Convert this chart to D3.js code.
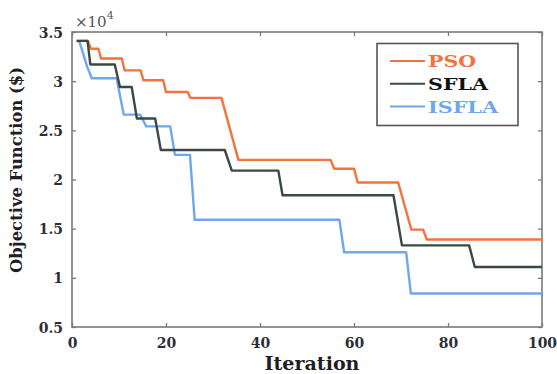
<!DOCTYPE html>
<html>
<head>
<meta charset="utf-8">
<script src="https://cdn.jsdelivr.net/npm/d3@7"></script>
<style>
	body { margin: 0; background: #fff; }
	.container { width: 557px; height: 374px; }
</style>
</head>
<body>
<div class="container"></div>
<script>
// values, [iteration, objective / 1e4]
var psoPoints = [[1, 3.41], [3.4, 3.41], [4, 3.33], [5.6, 3.33], [6.2, 3.23], [10.6, 3.23], [11.2, 3.11], [14.6, 3.11],
	[15.2, 3.01], [19.4, 3.01], [20, 2.89], [24.6, 2.89], [25.2, 2.83], [31.8, 2.83], [35.4, 2.20], [55, 2.20],
	[55.8, 2.11], [60, 2.11], [60.8, 1.97], [69.4, 1.97], [72.2, 1.49], [74.7, 1.49], [75.5, 1.39], [100, 1.39]];
var sflaPoints = [[1, 3.41], [3.3, 3.41], [3.9, 3.17], [9.1, 3.17], [10.2, 2.94], [12.7, 2.94], [13.8, 2.62], [17.7, 2.62],
	[18.9, 2.30], [32.5, 2.30], [34, 2.09], [43.9, 2.09], [44.8, 1.84], [68.4, 1.84], [70.2, 1.33], [84.5, 1.33],
	[85.7, 1.11], [100, 1.11]];
var isflaPoints = [[1, 3.41], [1.6, 3.40], [3.2, 3.15], [4.2, 3.03], [9.5, 3.03], [11, 2.66], [14.5, 2.66], [15.8, 2.54],
	[20.9, 2.54], [21.9, 2.25], [25.1, 2.25], [26.1, 1.59], [56.9, 1.59], [57.9, 1.26], [71.1, 1.26], [72.1, 0.84],
	[100, 0.84]];

var seriesNames = ["PSO", "SFLA", "ISFLA"];
var seriesColors = ["#f3733d", "#3b4846", "#6ea7ee"];
var xTicks = [0, 20, 40, 60, 80, 100];
var yTicks = [0.5, 1, 1.5, 2, 2.5, 3, 3.5];

var W = 557, H = 374;
var plotLeft = 72, plotRight = 542, plotTop = 32, plotBottom = 327; // note: "top" is taken by window.top
var serif = "'DejaVu Serif', serif";
var labelColor = "#2e2e38";

function makeStage(w, h) {
	var stage = d3.select(".container")
	.insert("svg")
	.attr("width", w)
	.attr("height", h);
	return stage;
}

var stage = makeStage(W, H);

var x = d3.scaleLinear().domain([0, 100]).range([plotLeft, plotRight]);
var y = d3.scaleLinear().domain([0.5, 3.5]).range([plotBottom, plotTop]);

// ticks point inwards, on all four sides like a matlab box
function drawAxes(stage) {
	var bx = stage.append("g").attr("transform", "translate(0," + plotBottom + ")")
	.call(d3.axisBottom(x).tickValues(xTicks).tickSize(-4).tickSizeOuter(0).tickPadding(8));
	var tx = stage.append("g").attr("transform", "translate(0," + plotTop + ")")
	.call(d3.axisTop(x).tickValues(xTicks).tickSize(-4).tickSizeOuter(0).tickFormat(""));
	var ly = stage.append("g").attr("transform", "translate(" + plotLeft + ",0)")
	.call(d3.axisLeft(y).tickValues(yTicks).tickSize(-4).tickSizeOuter(0).tickPadding(9).tickFormat(d3.format("")));
	var ry = stage.append("g").attr("transform", "translate(" + plotRight + ",0)")
	.call(d3.axisRight(y).tickValues(yTicks).tickSize(-4).tickSizeOuter(0).tickFormat(""));

	[bx, tx, ly, ry].forEach(function(g) {
		g.select(".domain").remove();
		g.selectAll(".tick line").attr("stroke", "#7a7a7a").attr("stroke-width", 1.3);
		g.selectAll("text")
		.style("font-family", serif)
		.style("font-weight", "bold")
		.style("font-size", "14px")
		.attr("fill", labelColor);
	});
	bx.selectAll("text").attr("dy", "0.9em");
	ly.selectAll("text").attr("dy", "0.36em");

	stage.append("rect")
	.attr("x", plotLeft)
	.attr("y", plotTop)
	.attr("width", plotRight - plotLeft)
	.attr("height", plotBottom - plotTop)
	.attr("fill", "none")
	.attr("stroke", "#7a7a7a")
	.attr("stroke-width", 1.6);
}

function drawSeries(stage, pts, color) {
	var line = d3.line()
	.x(function(d) { return x(d[0]); })
	.y(function(d) { return y(d[1]); });
	stage.append("path")
	.datum(pts)
	.attr("d", line)
	.attr("fill", "none")
	.attr("stroke", color)
	.attr("stroke-width", 2.4)
	.attr("stroke-linejoin", "round");
}

drawAxes(stage);
// blue underneath, black on top
drawSeries(stage, isflaPoints, seriesColors[2]);
drawSeries(stage, psoPoints, seriesColors[0]);
drawSeries(stage, sflaPoints, seriesColors[1]);

// exponent at top left
var expo = stage.append("text")
.attr("x", 75)
.attr("y", 27)
.style("font-family", serif)
.style("font-size", "15px")
.attr("fill", "#555");
expo.append("tspan").text("\u00d710");
expo.append("tspan").attr("dy", -8).style("font-size", "11px").text("4");

// axis titles
stage.append("text")
.attr("x", 312)
.attr("y", 370)
.attr("text-anchor", "middle")
.attr("textLength", 95)
.attr("lengthAdjust", "spacingAndGlyphs")
.style("font-family", serif)
.style("font-weight", "bold")
.style("font-size", "18px")
.attr("fill", "#1e1e24")
.text("Iteration");

stage.append("text")
.attr("transform", "translate(22,170) rotate(-90)")
.attr("text-anchor", "middle")
.attr("textLength", 206)
.attr("lengthAdjust", "spacingAndGlyphs")
.style("font-family", serif)
.style("font-weight", "bold")
.style("font-size", "17px")
.attr("fill", "#1e1e24")
.text("Objective Function ($)");

// legend
function drawLegend(stage) {
	stage.append("rect")
	.attr("x", 377)
	.attr("y", 43.5)
	.attr("width", 141)
	.attr("height", 82)
	.attr("fill", "#fff")
	.attr("stroke", "#555")
	.attr("stroke-width", 1.6);
	var widths = [48, 60, 70];
	seriesNames.forEach(function(name, i) {
		var ly = 61 + i * 22.8;
		stage.append("line")
		.attr("x1", 390).attr("x2", 425)
		.attr("y1", ly).attr("y2", ly)
		.attr("stroke", seriesColors[i])
		.attr("stroke-width", 2);
		stage.append("text")
		.attr("x", 428)
		.attr("y", ly + 6)
		.attr("textLength", widths[i])
		.attr("lengthAdjust", "spacingAndGlyphs")
		.style("font-family", serif)
		.style("font-weight", "bold")
		.style("font-size", "16px")
		.attr("fill", i == 1 ? "#111" : seriesColors[i])
		.text(name);
	});
}

drawLegend(stage);
</script>
</body>
</html>
